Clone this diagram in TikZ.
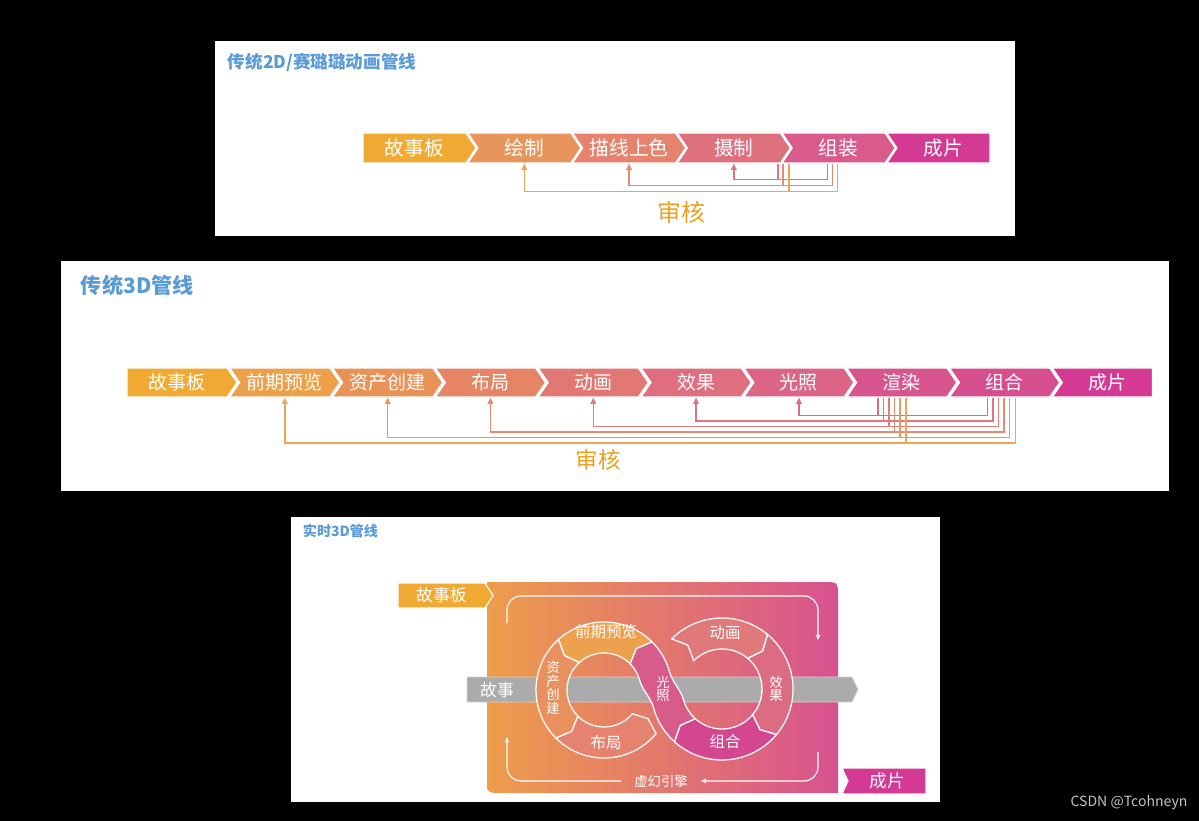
\documentclass[tikz,border=0pt]{standalone}
\usepackage{fontspec}
\setmainfont{Noto Sans CJK SC}
\usepackage{xcolor}
\definecolor{titleblue}{HTML}{5B9BD5}
\definecolor{review}{HTML}{EAA222}
\definecolor{twoA}{HTML}{F0A932}
\definecolor{twoB}{HTML}{E8955C}
\definecolor{twoC}{HTML}{E5836E}
\definecolor{twoD}{HTML}{DF717F}
\definecolor{twoE}{HTML}{D95B8B}
\definecolor{twoF}{HTML}{D43A94}
\definecolor{thrB}{HTML}{ECA04A}
\definecolor{thrC}{HTML}{E99258}
\definecolor{thrD}{HTML}{E68566}
\definecolor{thrE}{HTML}{E27874}
\definecolor{thrF}{HTML}{DF6E80}
\definecolor{thrG}{HTML}{DB6487}
\definecolor{thrH}{HTML}{D7548D}
\definecolor{thrI}{HTML}{D64E8E}
\definecolor{fbA}{HTML}{DC6A88}
\definecolor{fbB}{HTML}{DF7482}
\definecolor{fbC}{HTML}{E27E7A}
\definecolor{fbD}{HTML}{E68A70}
\definecolor{fbE}{HTML}{EA9664}
\definecolor{fbF}{HTML}{EFA458}
\definecolor{rtA}{HTML}{EE9D4B}
\definecolor{rtB}{HTML}{D75290}
\definecolor{segqq}{HTML}{EDA04E}
\definecolor{segzc}{HTML}{E8905E}
\definecolor{segbj}{HTML}{E58270}
\definecolor{segdh}{HTML}{E07A7A}
\definecolor{segxg}{HTML}{DC6C82}
\definecolor{seghe}{HTML}{D4468E}
\definecolor{seggz}{HTML}{D85C8A}
\definecolor{bandgrey}{HTML}{ABABAB}
\definecolor{bandedge}{HTML}{D2D2D2}
\definecolor{wmgrey}{HTML}{C4C4C4}
\usepackage{tikz}
\usetikzlibrary{
  arrows.meta,
  positioning,
  shapes.symbols,
  calc
}

% one piece of a ring: centre, inner, outer, from, to, tip offset
\newcommand{\ringseg}[6]{($(#1)+(#4:#3)$) arc[start angle=#4, end angle=#5, radius=#3]
  -- ($(#1)+({#5+#6}:{(#2+#3)/2})$) -- ($(#1)+(#5:#2)$)
  arc[start angle=#5, end angle=#4, radius=#2]
  -- ($(#1)+({#4+#6}:{(#2+#3)/2})$) -- cycle}

\begin{document}
\begin{tikzpicture}[
  x=0.025cm, y=-0.025cm,
  panel/.style={fill=white},
  title/.style={anchor=west, text=titleblue, font=\bfseries\fontsize{#1}{#1}\selectfont},
  stage/.style={signal, signal to=east, signal from=west, draw=white, line width=0.8pt, text=white, inner sep=0pt},
  twod/.style={stage, signal pointer angle=112, minimum width=2.825cm, minimum height=0.75cm, font=\fontsize{14}{14}\selectfont},
  threed/.style={stage, signal pointer angle=111, minimum width=2.75cm, minimum height=0.725cm, font=\fontsize{13.5}{13.5}\selectfont},
  fb/.style={line width=1.1pt, -{Triangle[length=4.5pt, width=4pt]}},
  riser/.style={line width=1.1pt},
  verdict/.style={text=review, font=\fontsize{#1}{#1}\selectfont},
  seg/.style={draw=white, line width=0.9pt},
  onring/.style={text=white, inner sep=0pt, font=\fontsize{11}{11}\selectfont},
  upright/.style={text=white, inner sep=0pt, align=center, font=\fontsize{9.5}{9.8}\selectfont},
  loopln/.style={white, line width=0.8pt, rounded corners=0.35cm, -{Stealth[length=4pt, width=3.5pt]}},
]

\fill[black] (0,0) rectangle (1199,821);

% 2D
\fill[panel] (215,41) rectangle (1015,236);
\node[title=12.5] (h2) at (223,62) {传统2D/赛璐璐动画管线};

\node[twod, signal from=nowhere, fill=twoA] (s1) at (414.5,148) {故事板};
\node[twod, fill=twoB, right=0.0125cm of s1] (s2) {绘制};
\node[twod, fill=twoC, right=0.0125cm of s2] (s3) {描线上色};
\node[twod, fill=twoD, right=0.0125cm of s3] (s4) {摄制};
\node[twod, fill=twoE, right=0.0125cm of s4] (s5) {组装};
\node[twod, signal to=nowhere, minimum width=2.575cm, fill=twoF, right=0.0125cm of s5] (s6) {成片};

\draw[fb, fbB] ($(s5.south)+(-11,0)$) -- ++(0,16) -| (s4.south);
\draw[fb, fbD] ($(s5.south)+(-6,0)$) -- ++(0,22) -| (s3.south);
\draw[fb, fbF] ($(s5.south)+(-1,0)$) -- ++(0,28) -| (s2.south);
\draw[riser, fbB] ($(s4.south)+(44,0)$) -- ++(0,16);
\draw[riser, fbD] ($(s4.south)+(49,0)$) -- ++(0,22);
\draw[riser, fbF] ($(s4.south)+(55,0)$) -- ++(0,28);

\node[verdict=17] (v2) at (681,212) {审核};

% 3D
\fill[panel] (61,261) rectangle (1169,491);
\node[title=15] (h3) at (76,285) {传统3D管线};

\node[threed, signal from=nowhere, fill=twoA] (t1) at (177,382.5) {故事板};
\node[threed, fill=thrB, right=0.035cm of t1] (t2) {前期预览};
\node[threed, fill=thrC, right=0.035cm of t2] (t3) {资产创建};
\node[threed, fill=thrD, right=0.035cm of t3] (t4) {布局};
\node[threed, fill=thrE, right=0.035cm of t4] (t5) {动画};
\node[threed, fill=thrF, right=0.035cm of t5] (t6) {效果};
\node[threed, fill=thrG, right=0.035cm of t6] (t7) {光照};
\node[threed, fill=thrH, right=0.035cm of t7] (t8) {渲染};
\node[threed, fill=thrI, right=0.035cm of t8] (t9) {组合};
\node[threed, signal to=nowhere, minimum width=2.5cm, fill=twoF, right=0.035cm of t9] (t10) {成片};

\draw[fb, fbA] ($(t9.south)+(-17,0)$) -- ++(0,18) -| (t7.south);
\draw[fb, fbB] ($(t9.south)+(-11.5,0)$) -- ++(0,23.5) -| (t6.south);
\draw[fb, fbC] ($(t9.south)+(-6,0)$) -- ++(0,29) -| (t5.south);
\draw[fb, fbD] ($(t9.south)+(-0.5,0)$) -- ++(0,34.5) -| (t4.south);
\draw[fb, fbE] ($(t9.south)+(5,0)$) -- ++(0,40) -| (t3.south);
\draw[fb, fbF] ($(t9.south)+(11,0)$) -- ++(0,45.5) -| (t2.south);
\draw[riser, fbA] ($(t8.south)+(-24,0)$) -- ++(0,18);
\draw[riser, fbB] ($(t8.south)+(-18.5,0)$) -- ++(0,23.5);
\draw[riser, fbC] ($(t8.south)+(-13,0)$) -- ++(0,29);
\draw[riser, fbD] ($(t8.south)+(-7.5,0)$) -- ++(0,34.5);
\draw[riser, fbE] ($(t8.south)+(-2,0)$) -- ++(0,40);
\draw[riser, fbF] ($(t8.south)+(4,0)$) -- ++(0,45.5);

\node[verdict=16] (v3) at (598,460) {审核};

% real-time 3D
\fill[panel] (291,517) rectangle (940,802);
\node[title=10] (hr) at (298,531) {实时3D管线};

\shade[left color=rtA, right color=rtB] (487,582) -- (823,582) .. controls (838,582) .. (838,597)
  -- (838,793) -- (502,793) .. controls (487,793) .. (487,778) -- cycle;

\node[text=white, font=\fontsize{9.5}{9.5}\selectfont] (ue) at (661,781) {虚幻引擎};
\draw[loopln] (507,623) -- (507,596) -- (818,596) -- (818,640);
\draw[loopln] (818,752) -- (818,781) -- ($(ue.east)+(8,0)$);
\draw[loopln] ($(ue.west)+(-8,0)$) -- (507,781) -- (507,737);

\fill[bandgrey, draw=bandedge, line width=0.6pt] (467,677) -- (852,677) -- (858,689.5) -- (852,702) -- (467,702) -- cycle;
\node[text=white, font=\fontsize{12}{12}\selectfont] (gs) at (497,690) {故事};

\coordinate (lc) at (604,690);
\coordinate (rc) at (722,689);
\filldraw[seg, fill=segqq] \ringseg{lc}{37}{68}{315}{228}{-7};
\filldraw[seg, fill=segzc] \ringseg{lc}{37}{68}{228}{135}{-7};
\filldraw[seg, fill=segbj] \ringseg{lc}{37}{68}{135}{40}{-7};
\filldraw[seg, fill=segdh] \ringseg{rc}{40}{71}{225}{310}{7};
\filldraw[seg, fill=segxg] \ringseg{rc}{40}{71}{310}{400}{7};
\filldraw[seg, fill=seghe] \ringseg{rc}{40}{71}{40}{132}{7};
\filldraw[seg, fill=seggz] ($(rc)+(132:71)$) arc[start angle=132, end angle=165, radius=71]
  .. controls +(255:10) and +(75:10) .. ($(lc)+(345:37)$)
  arc[start angle=345, end angle=315, radius=37]
  -- ($(lc)+(308:52.5)$) -- ($(lc)+(315:68)$)
  arc[start angle=315, end angle=345, radius=68]
  .. controls +(75:10) and +(255:10) .. ($(rc)+(165:40)$)
  arc[start angle=165, end angle=132, radius=40]
  -- ($(rc)+(139:55.5)$) -- cycle;

\node[onring] (qq) at (606,632) {前期预览};
\node[upright] (zc) at (553,688) {资\\产\\创\\建};
\node[onring] (bj) at (606,743) {布局};
\node[onring] (dh) at (725,633) {动画};
\node[upright] (xg) at (776,689) {效\\果};
\node[onring] (he) at (725,742) {组合};
\node[upright] (gz) at (663,689) {光\\照};

\node[stage, signal from=nowhere, signal pointer angle=115, minimum width=2.375cm, minimum height=0.625cm, fill=twoA, font=\fontsize{12}{12}\selectfont] (r1) at (441.5,595.5) {故事板};
\node[stage, signal to=nowhere, signal pointer angle=130, minimum width=2.1cm, minimum height=0.65cm, fill=twoF, font=\fontsize{12.5}{12.5}\selectfont] (r2) at (887,781) {成片};

\node[text=wmgrey, font=\fontsize{10}{10}\selectfont] (wm) at (1129,803) {CSDN @Tcohneyn};

\end{tikzpicture}
\end{document}
